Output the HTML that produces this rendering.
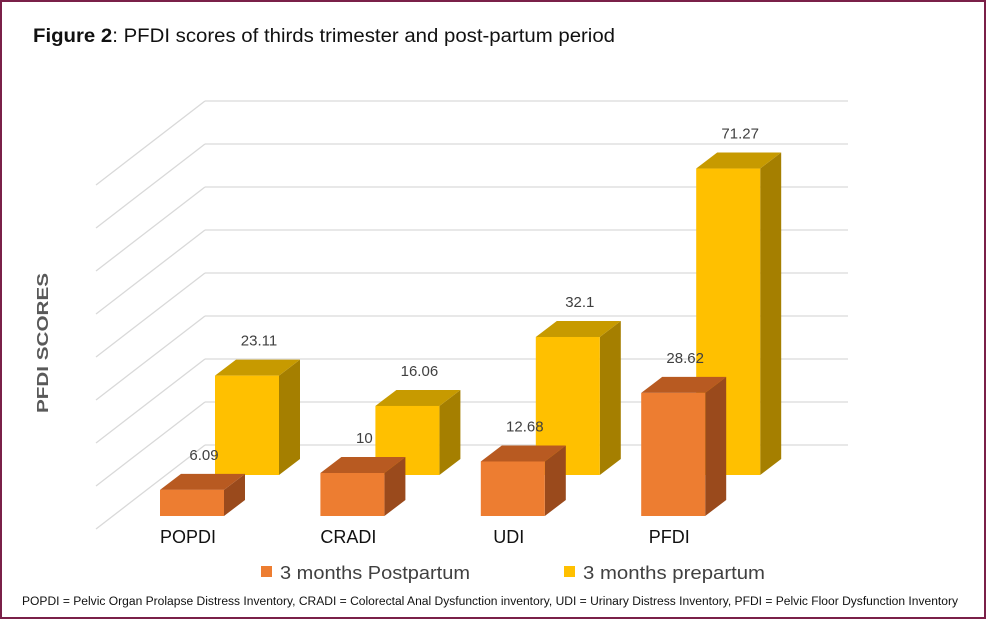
<!DOCTYPE html>
<html><head><meta charset="utf-8"><style>
html,body{margin:0;padding:0;background:#fff;}
svg{display:block;font-family:"Liberation Sans",sans-serif;}
</style></head><body>
<svg id="chart" width="986" height="619" viewBox="0 0 986 619" xmlns="http://www.w3.org/2000/svg">
<rect x="1" y="1" width="984" height="617" fill="#fff" stroke="#7a2048" stroke-width="2"/>
<text x="33" y="42" font-size="19" fill="#111" textLength="582" lengthAdjust="spacingAndGlyphs"><tspan font-weight="bold">Figure 2</tspan>: PFDI scores of thirds trimester and post-partum period</text>
<g id="grid"></g>
<text transform="translate(48,343) rotate(-90)" text-anchor="middle" font-size="16" font-weight="bold" fill="#595959" textLength="140" lengthAdjust="spacingAndGlyphs">PFDI SCORES</text>
<g id="bars"></g>
<g id="labels"></g>
<g>
<rect x="261" y="566" width="11" height="11" fill="#ed7d31"/>
<text x="280" y="579" font-size="18" fill="#404040" textLength="190" lengthAdjust="spacingAndGlyphs">3 months Postpartum</text>
<rect x="564" y="566" width="11" height="11" fill="#ffc000"/>
<text x="583" y="579" font-size="18" fill="#404040" textLength="182" lengthAdjust="spacingAndGlyphs">3 months prepartum</text>
</g>
<text x="22" y="605" font-size="11.5" fill="#111" textLength="936" lengthAdjust="spacingAndGlyphs">POPDI = Pelvic Organ Prolapse Distress Inventory, CRADI = Colorectal Anal Dysfunction inventory, UDI = Urinary Distress Inventory, PFDI = Pelvic Floor Dysfunction Inventory</text>
</svg>
<script>
const categories = ["POPDI", "CRADI", "UDI", "PFDI"];
const postpartum = [6.09, 10, 12.68, 28.62];
const prepartum = [23.11, 16.06, 32.1, 71.27];
const postpartumLabels = ["6.09", "10", "12.68", "28.62"];
const prepartumLabels = ["23.11", "16.06", "32.1", "71.27"];
const gridTicks = [0, 10, 20, 30, 40, 50, 60, 70, 80];

const NS = "http://www.w3.org/2000/svg";
const PX = 4.3;
function yScale(v, base){ return base - v * PX; }
function xCat(i){ return 160 + i * 160.4; }
function mk(tag, attrs, parent){
  const e = document.createElementNS(NS, tag);
  for (const k in attrs) e.setAttribute(k, attrs[k]);
  parent.appendChild(e); return e;
}
const grid = document.getElementById('grid');
gridTicks.forEach(t => {
  const y = yScale(t, 445);
  const l = mk('line', {x1:205, y1:y, x2:848, y2:y, stroke:'#d9d9d9', 'stroke-width':1.3}, grid);
  
  
  const d = mk('line', {x1:96, y1:y+84, x2:205, y2:y, stroke:'#d9d9d9', 'stroke-width':1.3}, grid);
  
  
});
const bars = document.getElementById('bars');
const labels = document.getElementById('labels');
const W = 64, DX = 21, DY = 16;
function bar(x, base, v, front, top, side, name, lab){
  const yt = yScale(v, base);
  const g = mk('g', {}, bars);
  
  
  mk('polygon', {points:`${x+W},${yt} ${x+W+DX},${yt-DY} ${x+W+DX},${base-DY} ${x+W},${base}`, fill:side}, g);
  mk('polygon', {points:`${x},${yt} ${x+DX},${yt-DY} ${x+W+DX},${yt-DY} ${x+W},${yt}`, fill:top}, g);
  mk('rect', {x:x, y:yt, width:W, height:base-yt, fill:front}, g);
  const t = mk('text', {x:x+W/2+12, y:yt-DY-14, 'font-size':15, fill:'#404040', 'text-anchor':'middle'}, labels);
  
  
  t.textContent = lab;
}
categories.forEach((c, i) => {
  const x = xCat(i);
  bar(x + 55, 475, prepartum[i], '#ffc000', '#c79a00', '#a57f00', 'bar-prepartum-' + c.toLowerCase(), prepartumLabels[i]);
});
categories.forEach((c, i) => {
  const x = xCat(i);
  bar(x, 516, postpartum[i], '#ed7d31', '#b85a21', '#9a4a1c', 'bar-postpartum-' + c.toLowerCase(), postpartumLabels[i]);
  const t = mk('text', {x:x+28, y:543, 'font-size':18, fill:'#111', 'text-anchor':'middle'}, labels);
  
  
  t.textContent = c;
});
</script>
</body></html>
